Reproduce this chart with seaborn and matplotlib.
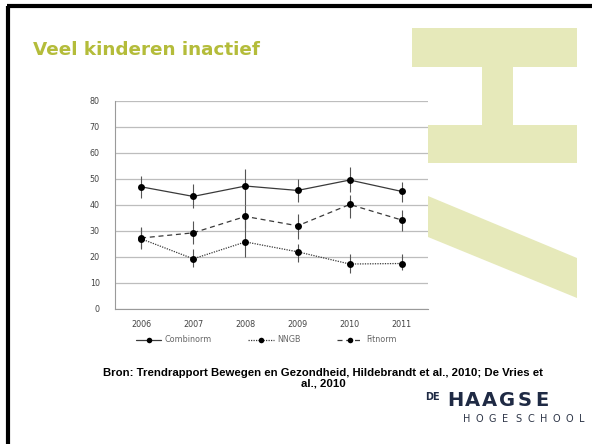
import numpy as np
import pandas as pd
import matplotlib
matplotlib.use("Agg")
import matplotlib.pyplot as plt
from matplotlib.patches import Polygon, Rectangle
from matplotlib.lines import Line2D
import seaborn as sns

# --- Daten ---
years = [2006, 2007, 2008, 2009, 2010, 2011]
combinorm = [47.0, 43.3, 47.3, 45.6, 49.6, 45.2]
combinorm_lo = [42.5, 39.0, 40.0, 41.0, 45.0, 41.0]
combinorm_hi = [51.0, 48.0, 54.0, 50.0, 54.5, 49.0]
nngb = [27.0, 19.3, 25.8, 22.0, 17.3, 17.5]
nngb_lo = [23.0, 16.0, 20.0, 18.0, 14.0, 15.0]
nngb_hi = [31.0, 23.0, 35.0, 25.0, 21.0, 21.0]
fitnorm = [27.3, 29.3, 35.6, 32.0, 40.2, 34.2]
fitnorm_lo = [23.5, 25.0, 31.0, 27.0, 35.0, 30.0]
fitnorm_hi = [31.5, 34.0, 40.0, 36.5, 44.0, 38.0]
series_names = ["Combinorm", "NNGB", "Fitnorm"]
y_ticks = [0, 10, 20, 30, 40, 50, 60, 70, 80]

title = "Veel kinderen inactief"
source = "Bron: Trendrapport Bewegen en Gezondheid, Hildebrandt et al., 2010; De Vries et\nal., 2010"

df = pd.DataFrame({
    "jaar": years * 3,
    "waarde": combinorm + nngb + fitnorm,
    "reeks": [n for n in series_names for _ in years],
})

sns.set_theme(style="white")
plt.rcParams['font.family'] = ['DejaVu Sans']

W, H = 592, 444
fig = plt.figure(figsize=(W / 100, H / 100), dpi=100)
fig.patch.set_facecolor("white")

# --- Dekoration (H-Logo im Hintergrund) ---
bg = fig.add_axes([0, 0, 1, 1], zorder=0)
bg.set_xlim(0, W)
bg.set_ylim(H, 0)
bg.axis("off")
deco = "#e6e9ba"
bg.add_patch(Rectangle((412, 28), 165, 39, color=deco, lw=0))
bg.add_patch(Rectangle((482, 66), 31, 60, color=deco, lw=0))
bg.add_patch(Rectangle((428, 125), 149, 38, color=deco, lw=0))
bg.add_patch(Polygon([(428, 196), (577, 258), (577, 298), (428, 237)], closed=True, color=deco, lw=0))
# Rahmen
bg.plot([8, 8], [H + 5, 6], color="black", lw=3, solid_capstyle="butt")
bg.plot([7, W + 5], [6, 6], color="black", lw=3, solid_capstyle="butt")

# --- Diagramm ---
ax = fig.add_axes([115 / W, 1 - 309 / H, (428 - 115) / W, (309 - 101) / H], zorder=2)
ax.set_facecolor("white")

dash_map = {"Combinorm": "", "NNGB": (1, 1), "Fitnorm": (4, 3)}
sns.lineplot(data=df, x="jaar", y="waarde", style="reeks", dashes=dash_map,
             color="#3a3a3a", linewidth=0.9, markers={n: "o" for n in series_names},
             markersize=5, markeredgewidth=0, legend=False, ax=ax, zorder=3)
for (lo, hi) in [(combinorm_lo, combinorm_hi), (nngb_lo, nngb_hi), (fitnorm_lo, fitnorm_hi)]:
    ax.vlines(years, lo, hi, color="#555555", lw=0.8, zorder=2)
for line in ax.lines:
    line.set_markerfacecolor("black")

ax.set_ylim(0, 80)
ax.set_xlim(years[0] - 0.5, years[-1] + 0.5)
ax.set_yticks(y_ticks)
ax.set_xticks(years)
ax.set_xticks([y + 0.5 for y in years], minor=True)
ax.yaxis.grid(True, color="#bdbdbd", lw=0.9)
ax.set_axisbelow(True)
for s in ["top", "right"]:
    ax.spines[s].set_visible(False)
for s in ["left", "bottom"]:
    ax.spines[s].set_color("#9a9a9a")
    ax.spines[s].set_linewidth(0.8)
ax.tick_params(axis="y", labelsize=5.8, labelcolor="#444444", length=3, color="#9a9a9a", width=0.7, pad=8)
ax.tick_params(axis="x", which="major", labelsize=5.8, labelcolor="#444444", length=0, pad=8)
ax.tick_params(axis="x", which="minor", length=3, color="#9a9a9a", width=0.7, direction="out")
ax.set_xlabel("")
ax.set_ylabel("")

# Legende
handles = []
for n in series_names:
    h = Line2D([0], [0], color="#3a3a3a", lw=0.9, marker="o", markersize=4,
               markerfacecolor="black", markeredgewidth=0)
    if dash_map[n] != "":
        h.set_dashes(dash_map[n])
    handles.append(h)
fig.legend(handles, series_names, loc="center", bbox_to_anchor=(266 / W, 1 - 340 / H),
           ncol=3, frameon=False, fontsize=5.8, handlelength=3.2, columnspacing=4.5,
           labelcolor="#666666", handletextpad=0.4)

# --- Texte ---
fig.text(33 / W, 1 - 50 / H, title, fontsize=13.2, fontweight="bold", color="#b4bc3a",
         va="center", ha="left")
fig.text(323 / W, 1 - 378 / H, source, fontsize=8.2, fontweight="bold", color="black",
         family="Liberation Sans", ha="center", va="center", linespacing=1.0)

# Logo
fig.text(425 / W, 1 - 397 / H, "DE", fontsize=7, fontweight="bold", color="#1f2a44",
         family="DejaVu Sans", va="center", ha="left")
logo_big = "HAAGSE"
for i, ch in enumerate(logo_big):
    fig.text((455 + i * 17.3) / W, 1 - 400.5 / H, ch, fontsize=14, fontweight="bold",
             color="#1f2a44", family="DejaVu Sans", va="center", ha="center")
logo_small = "HOGESCHOOL"
for i, ch in enumerate(logo_small):
    fig.text((467 + i * 12.8) / W, 1 - 419 / H, ch, fontsize=7, color="#2e3648",
             family="DejaVu Sans", va="center", ha="center")

fig.savefig("out.png", dpi=100)
